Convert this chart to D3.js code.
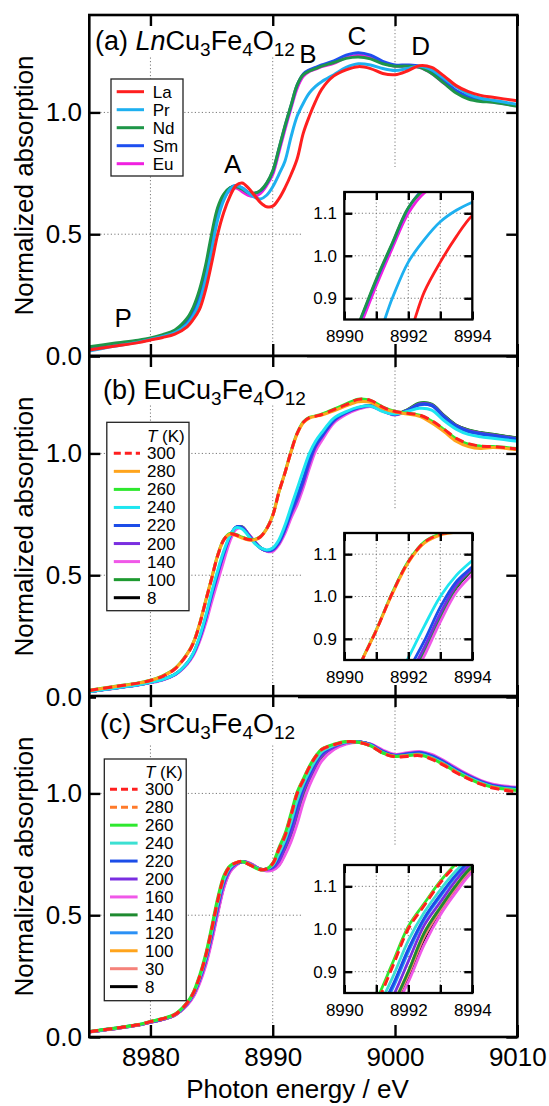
<!DOCTYPE html>
<html>
<head>
<meta charset="utf-8">
<script src="https://cdn.jsdelivr.net/npm/d3@7"></script>
<style>
  html, body { margin: 0; padding: 0; background: #fff; }
  svg { display: block; }
</style>
</head>
<body>
<svg id="chart" width="549" height="1106"></svg>
<script>
// ---- shared energy grid (eV) ----
const energy = [8975, 8977, 8979, 8980, 8981, 8982, 8983, 8983.5, 8984, 8984.5,
  8985, 8985.5, 8986, 8986.5, 8987, 8987.5, 8988, 8988.5, 8989, 8989.5,
  8990, 8990.5, 8991, 8991.5, 8992, 8992.5, 8993, 8993.5, 8994, 8995,
  8996, 8997, 8998, 8999, 9000, 9001, 9002, 9003, 9004, 9005,
  9006, 9007, 9008, 9010];

// ---- tick values ----
const xTicks = [8980, 8990, 9000, 9010];
const xGrid = [8980, 8990, 9000];
const yTicks = [0, 0.5, 1.0];
const yGrid = [0.5, 1.0];
const insetXTicks = [8990, 8991, 8992, 8993, 8994];
const insetXGrid = [8991, 8992, 8993];
const insetYTicks = [0.9, 1.0, 1.1];

// ---- (a) LnCu3Fe4O12 ----
const lnLabels = ["La", "Pr", "Nd", "Sm", "Eu"];
const lnLa = [0.025, 0.040, 0.055, 0.066, 0.076, 0.090, 0.120, 0.150, 0.190, 0.270,
  0.380, 0.500, 0.590, 0.655, 0.700, 0.710, 0.690, 0.660, 0.630, 0.613,
  0.615, 0.645, 0.690, 0.745, 0.810, 0.915, 0.985, 1.045, 1.095, 1.150,
  1.175, 1.188, 1.180, 1.160, 1.155, 1.170, 1.192, 1.185, 1.150, 1.110,
  1.085, 1.070, 1.062, 1.048];
const lnPr = [0.020, 0.040, 0.057, 0.068, 0.080, 0.096, 0.130, 0.165, 0.220, 0.310,
  0.430, 0.560, 0.640, 0.685, 0.700, 0.690, 0.670, 0.652, 0.645, 0.660,
  0.695, 0.745, 0.800, 0.900, 0.985, 1.038, 1.080, 1.107, 1.126, 1.155,
  1.185, 1.200, 1.195, 1.180, 1.172, 1.180, 1.190, 1.175, 1.140, 1.105,
  1.075, 1.058, 1.050, 1.033];
const lnNd = [0.038, 0.052, 0.065, 0.074, 0.088, 0.107, 0.155, 0.200, 0.270, 0.370,
  0.500, 0.610, 0.665, 0.690, 0.695, 0.685, 0.670, 0.668, 0.680, 0.710,
  0.760, 0.850, 0.945, 1.030, 1.113, 1.155, 1.170, 1.180, 1.190, 1.205,
  1.222, 1.228, 1.220, 1.200, 1.190, 1.190, 1.185, 1.160, 1.120, 1.080,
  1.055, 1.045, 1.042, 1.025];
const lnSm = [0.025, 0.042, 0.058, 0.068, 0.080, 0.098, 0.140, 0.180, 0.240, 0.340,
  0.470, 0.590, 0.655, 0.690, 0.700, 0.690, 0.672, 0.668, 0.678, 0.708,
  0.757, 0.848, 0.942, 1.028, 1.112, 1.158, 1.175, 1.185, 1.195, 1.212,
  1.235, 1.245, 1.235, 1.210, 1.195, 1.195, 1.190, 1.170, 1.130, 1.090,
  1.065, 1.050, 1.045, 1.030];
const lnEu = [0.030, 0.045, 0.060, 0.070, 0.083, 0.100, 0.145, 0.185, 0.245, 0.345,
  0.470, 0.585, 0.645, 0.680, 0.690, 0.675, 0.660, 0.655, 0.668, 0.700,
  0.745, 0.835, 0.930, 1.018, 1.100, 1.148, 1.168, 1.178, 1.188, 1.202,
  1.225, 1.235, 1.228, 1.205, 1.190, 1.190, 1.185, 1.160, 1.120, 1.085,
  1.060, 1.048, 1.043, 1.027];

// ---- (b) EuCu3Fe4O12, temperatures in K ----
const euTemps = ["300", "280", "260", "240", "220", "200", "140", "100", "8"];
const eu300 = [0.027, 0.042, 0.057, 0.068, 0.085, 0.115, 0.175, 0.220, 0.295, 0.390,
  0.485, 0.580, 0.645, 0.670, 0.665, 0.655, 0.647, 0.646, 0.658, 0.690,
  0.745, 0.840, 0.920, 1.008, 1.082, 1.128, 1.147, 1.153, 1.160, 1.180,
  1.200, 1.222, 1.218, 1.190, 1.172, 1.165, 1.158, 1.135, 1.100, 1.062,
  1.040, 1.030, 1.028, 1.018];
const eu280 = [0.027, 0.042, 0.057, 0.068, 0.086, 0.116, 0.176, 0.222, 0.297, 0.392,
  0.487, 0.582, 0.645, 0.668, 0.663, 0.652, 0.645, 0.645, 0.657, 0.690,
  0.745, 0.840, 0.920, 1.006, 1.080, 1.126, 1.145, 1.152, 1.158, 1.175,
  1.195, 1.212, 1.210, 1.185, 1.170, 1.162, 1.152, 1.125, 1.090, 1.050,
  1.028, 1.020, 1.024, 1.015];
const eu260 = [0.028, 0.043, 0.058, 0.069, 0.087, 0.117, 0.177, 0.222, 0.297, 0.392,
  0.487, 0.582, 0.647, 0.672, 0.667, 0.656, 0.648, 0.647, 0.659, 0.691,
  0.746, 0.841, 0.921, 1.009, 1.083, 1.129, 1.148, 1.154, 1.161, 1.182,
  1.203, 1.223, 1.218, 1.190, 1.172, 1.165, 1.157, 1.133, 1.098, 1.060,
  1.038, 1.030, 1.028, 1.020];
const eu240 = [0.022, 0.036, 0.050, 0.060, 0.072, 0.093, 0.140, 0.180, 0.245, 0.330,
  0.430, 0.520, 0.600, 0.662, 0.695, 0.690, 0.662, 0.632, 0.612, 0.604,
  0.612, 0.645, 0.705, 0.780, 0.855, 0.930, 1.000, 1.050, 1.085, 1.145,
  1.172, 1.190, 1.195, 1.172, 1.162, 1.172, 1.185, 1.178, 1.135, 1.100,
  1.078, 1.068, 1.062, 1.050];
const eu220 = [0.022, 0.036, 0.050, 0.060, 0.072, 0.092, 0.139, 0.178, 0.240, 0.322,
  0.420, 0.510, 0.592, 0.660, 0.698, 0.695, 0.666, 0.636, 0.612, 0.601,
  0.606, 0.636, 0.690, 0.760, 0.825, 0.895, 0.975, 1.035, 1.070, 1.137,
  1.168, 1.188, 1.196, 1.175, 1.160, 1.176, 1.200, 1.196, 1.150, 1.112,
  1.090, 1.080, 1.073, 1.058];
const eu200 = [0.022, 0.036, 0.050, 0.060, 0.072, 0.092, 0.138, 0.176, 0.236, 0.318,
  0.414, 0.504, 0.588, 0.657, 0.697, 0.697, 0.668, 0.637, 0.612, 0.600,
  0.604, 0.632, 0.685, 0.752, 0.810, 0.880, 0.960, 1.027, 1.066, 1.133,
  1.166, 1.186, 1.196, 1.176, 1.160, 1.177, 1.203, 1.199, 1.153, 1.114,
  1.093, 1.083, 1.076, 1.060];
const eu140 = [0.021, 0.035, 0.049, 0.058, 0.070, 0.090, 0.134, 0.170, 0.226, 0.300,
  0.390, 0.475, 0.560, 0.640, 0.688, 0.695, 0.670, 0.640, 0.612, 0.598,
  0.598, 0.625, 0.672, 0.735, 0.790, 0.860, 0.940, 1.010, 1.052, 1.125,
  1.160, 1.182, 1.193, 1.174, 1.158, 1.175, 1.200, 1.196, 1.150, 1.110,
  1.090, 1.080, 1.073, 1.058];
const eu100 = [0.022, 0.036, 0.050, 0.060, 0.072, 0.092, 0.138, 0.175, 0.235, 0.316,
  0.412, 0.502, 0.586, 0.656, 0.696, 0.698, 0.669, 0.638, 0.613, 0.600,
  0.603, 0.630, 0.680, 0.745, 0.802, 0.872, 0.952, 1.022, 1.065, 1.131,
  1.166, 1.186, 1.196, 1.176, 1.161, 1.179, 1.207, 1.202, 1.156, 1.116,
  1.096, 1.086, 1.079, 1.063];
const eu8 = [0.022, 0.036, 0.050, 0.060, 0.072, 0.092, 0.138, 0.175, 0.235, 0.315,
  0.410, 0.500, 0.585, 0.655, 0.695, 0.697, 0.668, 0.638, 0.613, 0.600,
  0.603, 0.630, 0.680, 0.745, 0.800, 0.870, 0.950, 1.020, 1.063, 1.130,
  1.165, 1.185, 1.195, 1.175, 1.160, 1.178, 1.205, 1.200, 1.155, 1.115,
  1.095, 1.085, 1.078, 1.062];

// ---- (c) SrCu3Fe4O12, temperatures in K ----
const srTemps = ["300", "280", "260", "240", "220", "200", "160", "140", "120", "100", "30", "8"];
const sr300 = [0.022, 0.035, 0.050, 0.063, 0.075, 0.092, 0.140, 0.180, 0.245, 0.330,
  0.440, 0.560, 0.655, 0.700, 0.715, 0.720, 0.710, 0.697, 0.687, 0.690,
  0.712, 0.770, 0.825, 0.910, 1.000, 1.055, 1.108, 1.150, 1.180, 1.200,
  1.212, 1.210, 1.195, 1.165, 1.150, 1.152, 1.155, 1.140, 1.115, 1.085,
  1.060, 1.038, 1.022, 1.005];
const sr280 = [0.022, 0.035, 0.050, 0.063, 0.075, 0.092, 0.140, 0.180, 0.244, 0.328,
  0.438, 0.557, 0.653, 0.700, 0.716, 0.721, 0.711, 0.698, 0.687, 0.690,
  0.711, 0.768, 0.827, 0.912, 1.002, 1.057, 1.110, 1.151, 1.180, 1.200,
  1.212, 1.210, 1.196, 1.167, 1.152, 1.155, 1.158, 1.143, 1.118, 1.088,
  1.062, 1.040, 1.025, 1.008];
const sr260 = [0.023, 0.036, 0.051, 0.064, 0.076, 0.094, 0.142, 0.183, 0.250, 0.337,
  0.450, 0.570, 0.662, 0.703, 0.716, 0.720, 0.710, 0.696, 0.686, 0.690,
  0.714, 0.776, 0.834, 0.919, 1.006, 1.060, 1.112, 1.153, 1.182, 1.202,
  1.213, 1.210, 1.195, 1.166, 1.152, 1.155, 1.158, 1.143, 1.118, 1.088,
  1.062, 1.040, 1.025, 1.012];
const sr240 = [0.022, 0.035, 0.050, 0.063, 0.075, 0.092, 0.139, 0.178, 0.240, 0.322,
  0.430, 0.548, 0.645, 0.695, 0.714, 0.720, 0.712, 0.699, 0.688, 0.690,
  0.705, 0.753, 0.809, 0.885, 0.973, 1.039, 1.092, 1.137, 1.171, 1.197,
  1.211, 1.211, 1.198, 1.168, 1.153, 1.157, 1.161, 1.147, 1.122, 1.092,
  1.066, 1.044, 1.028, 1.015];
const sr220 = [0.022, 0.035, 0.050, 0.062, 0.074, 0.091, 0.138, 0.176, 0.236, 0.316,
  0.422, 0.540, 0.640, 0.692, 0.713, 0.721, 0.713, 0.700, 0.688, 0.690,
  0.700, 0.740, 0.796, 0.866, 0.953, 1.026, 1.080, 1.128, 1.164, 1.195,
  1.211, 1.212, 1.200, 1.172, 1.156, 1.162, 1.167, 1.153, 1.128, 1.097,
  1.070, 1.048, 1.032, 1.020];
const sr200 = [0.021, 0.034, 0.049, 0.061, 0.073, 0.090, 0.135, 0.172, 0.230, 0.307,
  0.410, 0.525, 0.628, 0.685, 0.710, 0.720, 0.714, 0.701, 0.688, 0.688,
  0.694, 0.721, 0.779, 0.839, 0.924, 1.009, 1.063, 1.115, 1.155, 1.190,
  1.209, 1.212, 1.201, 1.174, 1.157, 1.163, 1.168, 1.155, 1.130, 1.100,
  1.073, 1.050, 1.034, 1.022];
const sr160 = [0.020, 0.033, 0.048, 0.060, 0.072, 0.089, 0.130, 0.164, 0.218, 0.290,
  0.390, 0.505, 0.612, 0.676, 0.705, 0.720, 0.717, 0.704, 0.688, 0.682,
  0.685, 0.703, 0.747, 0.803, 0.876, 0.964, 1.033, 1.087, 1.133, 1.180,
  1.203, 1.210, 1.203, 1.178, 1.160, 1.167, 1.172, 1.160, 1.135, 1.105,
  1.077, 1.054, 1.038, 1.025];
const sr140 = [0.021, 0.034, 0.049, 0.061, 0.073, 0.090, 0.134, 0.170, 0.227, 0.302,
  0.404, 0.518, 0.622, 0.682, 0.708, 0.719, 0.714, 0.702, 0.689, 0.687,
  0.690, 0.710, 0.764, 0.820, 0.900, 0.991, 1.050, 1.103, 1.146, 1.186,
  1.207, 1.211, 1.201, 1.174, 1.157, 1.162, 1.166, 1.153, 1.128, 1.098,
  1.071, 1.049, 1.033, 1.020];
const sr120 = [0.022, 0.035, 0.050, 0.062, 0.074, 0.091, 0.137, 0.175, 0.234, 0.313,
  0.418, 0.535, 0.636, 0.690, 0.712, 0.720, 0.713, 0.700, 0.688, 0.690,
  0.699, 0.735, 0.792, 0.859, 0.946, 1.022, 1.076, 1.125, 1.162, 1.194,
  1.211, 1.212, 1.200, 1.172, 1.156, 1.163, 1.168, 1.155, 1.130, 1.099,
  1.072, 1.050, 1.034, 1.022];
const sr100 = [0.021, 0.034, 0.049, 0.061, 0.073, 0.090, 0.134, 0.170, 0.228, 0.303,
  0.405, 0.519, 0.623, 0.683, 0.709, 0.719, 0.714, 0.702, 0.689, 0.687,
  0.690, 0.711, 0.765, 0.822, 0.901, 0.992, 1.051, 1.104, 1.147, 1.187,
  1.208, 1.211, 1.200, 1.173, 1.156, 1.161, 1.165, 1.152, 1.127, 1.097,
  1.070, 1.048, 1.032, 1.019];
const sr30 = [0.021, 0.034, 0.049, 0.061, 0.073, 0.090, 0.133, 0.169, 0.226, 0.300,
  0.401, 0.515, 0.620, 0.681, 0.708, 0.719, 0.714, 0.702, 0.689, 0.687,
  0.689, 0.708, 0.758, 0.815, 0.893, 0.982, 1.044, 1.097, 1.141, 1.184,
  1.206, 1.211, 1.201, 1.174, 1.157, 1.162, 1.166, 1.153, 1.128, 1.098,
  1.071, 1.049, 1.033, 1.020];
const sr8 = [0.021, 0.034, 0.049, 0.061, 0.073, 0.090, 0.133, 0.168, 0.225, 0.298,
  0.399, 0.513, 0.618, 0.680, 0.707, 0.719, 0.715, 0.702, 0.689, 0.687,
  0.689, 0.706, 0.755, 0.811, 0.888, 0.977, 1.041, 1.094, 1.139, 1.183,
  1.206, 1.211, 1.201, 1.174, 1.157, 1.162, 1.166, 1.153, 1.128, 1.098,
  1.071, 1.049, 1.033, 1.020];

// ---- peak labels of panel (a): [label, energy, value at baseline] ----
const peakLabels = [["A", 8986.73, 0.751], ["B", 8992.87, 1.202], ["C", 8996.89, 1.277],
  ["D", 9002.1, 1.236], ["P", 8977.76, 0.12]];

// ---------------------------------------------------------------
const FONT = '"Liberation Sans", Arial, Helvetica, sans-serif';
const svg = d3.select("#chart").attr("font-family", FONT);
const x = d3.scaleLinear().domain([8975, 9010]).range([89.3, 517.3]);
const xIn = d3.scaleLinear().domain([8990, 8994]).range([344.3, 472.3]);
const PANEL_H = 341;
const smooth = d3.curveCatmullRom.alpha(0.5);

const panels = [
  {
    id: "a", top: 15,
    title: [["(a) ", "n"], ["Ln", "i"], ["Cu", "n"], ["3", "s"], ["Fe", "n"], ["4", "s"], ["O", "n"], ["12", "s"]],
    titleX: 95, titleY: 50, titleBg: [92, 15, 206, 41],
    inset: [192, 319.5], insetBg: [301, 167, 214, 188],
    legend: { x: 111, y: 79, w: 72, h: 97, header: false, row0: 91.7, step: 18, lx: [116.7, 144], tx: 152.7 },
    series: [
      { label: lnLabels[0], values: lnLa, color: "#ff1f1f" },
      { label: lnLabels[1], values: lnPr, color: "#1eb0f0" },
      { label: lnLabels[2], values: lnNd, color: "#1e9648" },
      { label: lnLabels[3], values: lnSm, color: "#1e4ff0" },
      { label: lnLabels[4], values: lnEu, color: "#f020e0" }
    ]
  },
  {
    id: "b", top: 356,
    title: [["(b) EuCu", "n"], ["3", "s"], ["Fe", "n"], ["4", "s"], ["O", "n"], ["12", "s"]],
    titleX: 103, titleY: 399, titleBg: [100, 356, 207, 49],
    inset: [533, 660], insetBg: [301, 510, 214, 185],
    legend: { x: 106.8, y: 422.3, w: 82.2, h: 188.4, header: true, headerY: 435.7, row0: 453.3, step: 18.05, lx: [113.8, 140], tx: 147 },
    series: [
      { label: euTemps[0], values: eu300, color: "#ff1f1f", dash: "9,5" },
      { label: euTemps[1], values: eu280, color: "#ffa41c" },
      { label: euTemps[2], values: eu260, color: "#2ee82e" },
      { label: euTemps[3], values: eu240, color: "#1ee6f0" },
      { label: euTemps[4], values: eu220, color: "#1c4de8" },
      { label: euTemps[5], values: eu200, color: "#7a2ee0" },
      { label: euTemps[6], values: eu140, color: "#f058e8" },
      { label: euTemps[7], values: eu100, color: "#1e9a30" },
      { label: euTemps[8], values: eu8, color: "#000000" }
    ]
  },
  {
    id: "c", top: 696,
    title: [["(c) SrCu", "n"], ["3", "s"], ["Fe", "n"], ["4", "s"], ["O", "n"], ["12", "s"]],
    titleX: 99.8, titleY: 733, titleBg: [96, 696, 202, 48],
    inset: [865, 993], insetBg: [301, 845, 214, 190],
    legend: { x: 104.3, y: 759, w: 81.9, h: 241.7, header: true, headerY: 771.7, row0: 789.3, step: 17.94, lx: [110, 137.6], tx: 145 },
    series: [
      { label: srTemps[0], values: sr300, color: "#ff1f1f", dash: "9,5" },
      { label: srTemps[1], values: sr280, color: "#ff7a2a", dash: "9,5" },
      { label: srTemps[2], values: sr260, color: "#2ee82e" },
      { label: srTemps[3], values: sr240, color: "#3ce0d2" },
      { label: srTemps[4], values: sr220, color: "#1c4de8" },
      { label: srTemps[5], values: sr200, color: "#7a2ee0" },
      { label: srTemps[6], values: sr160, color: "#f058e8" },
      { label: srTemps[7], values: sr140, color: "#1e8a30" },
      { label: srTemps[8], values: sr120, color: "#2a90f5" },
      { label: srTemps[9], values: sr100, color: "#ffa41c" },
      { label: srTemps[10], values: sr30, color: "#f5827a" },
      { label: srTemps[11], values: sr8, color: "#000000" }
    ]
  }
];

const defs = svg.append("defs");

function styleAxis(g, size) {
  g.attr("font-family", FONT).attr("font-size", size);
  g.select(".domain").remove();
  g.selectAll(".tick line").attr("stroke", "#000").attr("stroke-width", 2.4);
  g.selectAll(".tick text").attr("fill", "#000");
}

function drawTitle(parent, p) {
  const t = parent.append("text").attr("x", p.titleX).attr("y", p.titleY)
    .attr("font-size", 27).attr("fill", "#000");
  let sub = false;
  p.title.forEach(([str, kind]) => {
    const s = t.append("tspan").text(str);
    if (kind === "s") {
      s.attr("font-size", 19).attr("dy", sub ? 0 : 6);
      sub = true;
    } else {
      s.attr("font-size", 27);
      if (sub) { s.attr("dy", -6); sub = false; }
      if (kind === "i") s.attr("font-style", "italic");
    }
  });
}

panels.forEach(p => {
  const top = p.top, bottom = top + PANEL_H;
  const [x0, x1] = x.range();
  const y = d3.scaleLinear().domain([0, 1.4]).range([bottom, top]);
  const g = svg.append("g").attr("class", "panel-" + p.id);

  const clipMain = "clip-main-" + p.id;
  defs.append("clipPath").attr("id", clipMain).append("rect")
    .attr("x", x0).attr("y", top).attr("width", x1 - x0).attr("height", PANEL_H);

  // dotted grid
  const grid = g.append("g").attr("clip-path", `url(#${clipMain})`)
    .attr("stroke", "#7a7a7a").attr("stroke-width", 1).attr("stroke-dasharray", "1.2,2.3");
  grid.selectAll("line.gv").data(xGrid).join("line").attr("class", "gv")
    .attr("x1", d => x(d)).attr("x2", d => x(d)).attr("y1", top + 11).attr("y2", bottom);
  grid.selectAll("line.gh").data(yGrid).join("line").attr("class", "gh")
    .attr("y1", d => y(d)).attr("y2", d => y(d)).attr("x1", x0 + 11).attr("x2", x1 - 11);

  // white areas behind the title and the inset
  [p.titleBg, p.insetBg].forEach(r => {
    g.append("rect").attr("x", r[0]).attr("y", r[1]).attr("width", r[2]).attr("height", r[3]).attr("fill", "#fff");
  });

  // spectra
  const mainLine = d3.line().x((d, i) => x(energy[i])).y(d => y(d)).curve(smooth);
  const curves = g.append("g").attr("clip-path", `url(#${clipMain})`).attr("fill", "none");
  p.series.slice().reverse().forEach(s => {
    curves.append("path").datum(s.values).attr("d", mainLine)
      .attr("stroke", s.color).attr("stroke-width", 3)
      .attr("stroke-dasharray", s.dash || null).attr("stroke-linejoin", "round");
  });

  // legend
  const L = p.legend;
  const lg = g.append("g");
  lg.append("rect").attr("x", L.x).attr("y", L.y).attr("width", L.w).attr("height", L.h)
    .attr("fill", "#fff").attr("stroke", "#222").attr("stroke-width", 1.3);
  if (L.header) {
    const h = lg.append("text").attr("x", L.tx).attr("y", L.headerY).attr("dy", "0.35em")
      .attr("font-size", 17).attr("fill", "#000");
    h.append("tspan").attr("font-style", "italic").text("T");
    h.append("tspan").text(" (K)");
  }
  p.series.forEach((s, i) => {
    const cy = L.row0 + i * L.step;
    lg.append("line").attr("x1", L.lx[0]).attr("x2", L.lx[1]).attr("y1", cy).attr("y2", cy)
      .attr("stroke", s.color).attr("stroke-width", 3).attr("stroke-dasharray", s.dash ? "7,4" : null);
    lg.append("text").attr("x", L.tx).attr("y", cy).attr("dy", "0.35em")
      .attr("font-size", 17).attr("fill", "#000").text(s.label);
  });

  // inset: close-up of the edge
  const [iTop, iBot] = p.inset;
  const yIn = d3.scaleLinear().domain([0.85, 1.15]).range([iBot, iTop]);
  const [ix0, ix1] = xIn.range();
  const clipIn = "clip-inset-" + p.id;
  defs.append("clipPath").attr("id", clipIn).append("rect")
    .attr("x", ix0).attr("y", iTop).attr("width", ix1 - ix0).attr("height", iBot - iTop);
  const ig = g.append("g");
  const igrid = ig.append("g").attr("stroke", "#7a7a7a").attr("stroke-width", 1).attr("stroke-dasharray", "1.2,2.3");
  igrid.selectAll("line.iv").data(insetXGrid).join("line").attr("class", "iv")
    .attr("x1", d => xIn(d)).attr("x2", d => xIn(d)).attr("y1", iTop).attr("y2", iBot);
  igrid.selectAll("line.ih").data(insetYTicks).join("line").attr("class", "ih")
    .attr("y1", d => yIn(d)).attr("y2", d => yIn(d)).attr("x1", ix0).attr("x2", ix1);
  const inLine = d3.line().x((d, i) => xIn(energy[i])).y(d => yIn(d)).curve(smooth);
  const icurves = ig.append("g").attr("clip-path", `url(#${clipIn})`).attr("fill", "none");
  p.series.slice().reverse().forEach(s => {
    icurves.append("path").datum(s.values).attr("d", inLine)
      .attr("stroke", s.color).attr("stroke-width", 2.8)
      .attr("stroke-dasharray", s.dash || null);
  });
  ig.append("g").attr("transform", `translate(0,${iBot})`)
    .call(d3.axisBottom(xIn).tickValues(insetXTicks).tickSizeInner(-8).tickSizeOuter(0).tickPadding(10.6)
      .tickFormat(d => d % 2 === 0 ? d3.format("d")(d) : ""))
    .call(a => styleAxis(a, 17));
  ig.append("g").attr("transform", `translate(0,${iTop})`)
    .call(d3.axisTop(xIn).tickValues(insetXTicks).tickSizeInner(-8).tickSizeOuter(0).tickFormat(""))
    .call(a => styleAxis(a, 17));
  ig.append("g").attr("transform", `translate(${ix0},0)`)
    .call(d3.axisLeft(yIn).tickValues(insetYTicks).tickSizeInner(-8).tickSizeOuter(0).tickPadding(7.3)
      .tickFormat(d3.format(".1f")))
    .call(a => styleAxis(a, 17));
  ig.append("g").attr("transform", `translate(${ix1},0)`)
    .call(d3.axisRight(yIn).tickValues(insetYTicks).tickSizeInner(-8).tickSizeOuter(0).tickFormat(""))
    .call(a => styleAxis(a, 17));
  ig.append("rect").attr("x", ix0).attr("y", iTop).attr("width", ix1 - ix0).attr("height", iBot - iTop)
    .attr("fill", "none").attr("stroke", "#000").attr("stroke-width", 2.3);

  // title
  drawTitle(g, p);

  // peak labels
  if (p.id === "a") {
    g.selectAll("text.peak").data(peakLabels).join("text").attr("class", "peak")
      .attr("x", d => x(d[1])).attr("y", d => y(d[2]))
      .attr("text-anchor", "middle").attr("font-size", 26).attr("fill", "#000").text(d => d[0]);
  }

  // axes and frame
  const isLast = p.id === "c";
  g.append("g").attr("transform", `translate(0,${bottom})`)
    .call(d3.axisBottom(x).tickValues(xTicks).tickSizeInner(-12).tickSizeOuter(0).tickPadding(10.5)
      .tickFormat(isLast ? d3.format("d") : ""))
    .call(a => styleAxis(a, 26));
  g.append("g").attr("transform", `translate(0,${top})`)
    .call(d3.axisTop(x).tickValues(xTicks).tickSizeInner(-11).tickSizeOuter(0).tickFormat(""))
    .call(a => styleAxis(a, 26));
  g.append("g").attr("transform", `translate(${x0},0)`)
    .call(d3.axisLeft(y).tickValues(yTicks).tickSizeInner(-11).tickSizeOuter(0).tickPadding(7.3)
      .tickFormat(d3.format(".1f")))
    .call(a => styleAxis(a, 26));
  g.append("g").attr("transform", `translate(${x1},0)`)
    .call(d3.axisRight(y).tickValues(yTicks).tickSizeInner(-11).tickSizeOuter(0).tickFormat(""))
    .call(a => styleAxis(a, 26));
  g.append("rect").attr("x", x0).attr("y", top).attr("width", x1 - x0).attr("height", PANEL_H)
    .attr("fill", "none").attr("stroke", "#000").attr("stroke-width", 2.6);

  // y-axis title
  g.append("text").attr("transform", `translate(33,${(top + bottom) / 2}) rotate(-90)`)
    .attr("text-anchor", "middle").attr("font-size", 26).attr("fill", "#000")
    .text("Normalized absorption");
});

// x-axis title
svg.append("text").attr("x", 297.5).attr("y", 1098).attr("text-anchor", "middle")
  .attr("font-size", 26).attr("fill", "#000").text("Photon energy / eV");
</script>
</body>
</html>
